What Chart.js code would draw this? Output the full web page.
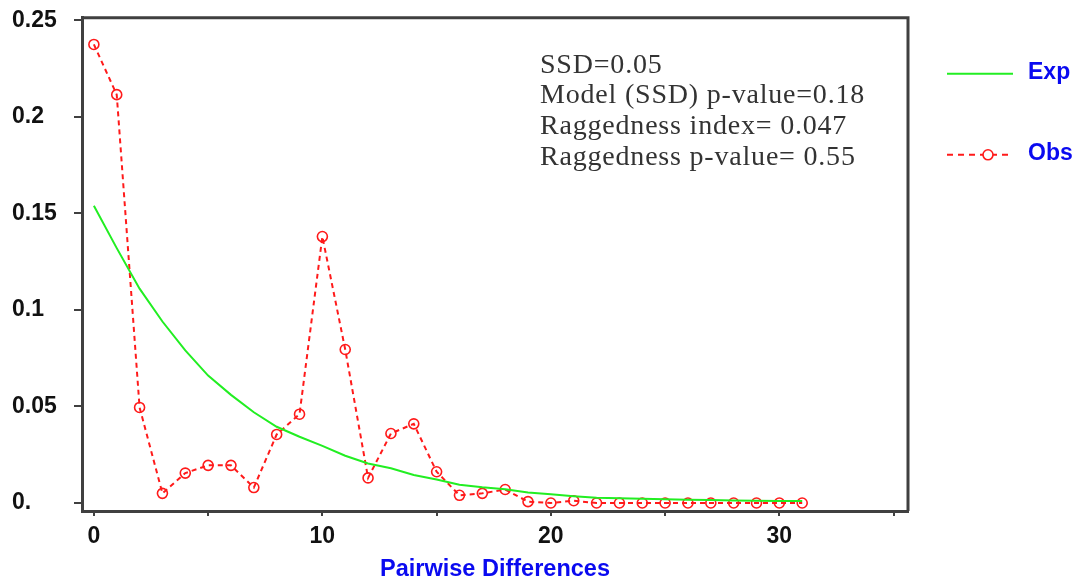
<!DOCTYPE html>
<html lang="en">
<head>
    <meta charset="UTF-8">
    <title>Mismatch Distribution</title>
    <script src="https://cdn.jsdelivr.net/npm/chart.js@4.4.1/dist/chart.umd.min.js"></script>
    <style>
        body { margin: 0; background: #FFFFFF; }
        #mismatchChart { display: block; }
    </style>
</head>
<body>
    <canvas id="mismatchChart" width="1075" height="585"></canvas>

    <script>
        // pairwise differences 0..31
        const differences = [0, 1, 2, 3, 4, 5, 6, 7, 8, 9, 10, 11, 12, 13, 14, 15,
                             16, 17, 18, 19, 20, 21, 22, 23, 24, 25, 26, 27, 28, 29, 30, 31];
        const expValues = [0.154, 0.132, 0.111, 0.094, 0.079, 0.066, 0.056, 0.047, 0.0395, 0.0343,
                           0.0296, 0.0245, 0.0205, 0.018, 0.0145, 0.0122, 0.0095, 0.0081, 0.0071, 0.0055,
                           0.0045, 0.0035, 0.0027, 0.0024, 0.0022, 0.002, 0.0017, 0.0015, 0.0013, 0.0012,
                           0.0011, 0.001];
        const obsValues = [0.2375, 0.2115, 0.0495, 0.005, 0.0155, 0.0195, 0.0195, 0.008, 0.0355, 0.046,
                           0.138, 0.0795, 0.013, 0.036, 0.041, 0.0162, 0.004, 0.005, 0.007, 0.0007,
                           0.0, 0.0012, 0.0, 0.0, 0.0, 0.0, 0.0, 0.0, 0.0, 0.0,
                           0.0, 0.0];

        const xTicks = [0, 5, 10, 15, 20, 25, 30, 35];
        const xTickLabels = ['0', '', '10', '', '20', '', '30', ''];
        const yTicks = [0, 0.05, 0.1, 0.15, 0.2, 0.25];
        const yTickLabels = ['0.', '0.05', '0.1', '0.15', '0.2', '0.25'];

        const statsLines = [
            'SSD=0.05',
            'Model (SSD) p-value=0.18',
            'Raggedness index= 0.047',
            'Raggedness p-value= 0.55'
        ];

        const axisColor = '#404040';
        const labelBlue = '#0a0af0';
        const expColor = '#22ee22';
        const obsColor = '#ff1a1a';

        // box round the plot area (top and right sides)
        const framePlugin = {
            id: 'frame',
            afterDraw(chart) {
                const { ctx, chartArea: a } = chart;
                ctx.save();
                ctx.strokeStyle = axisColor;
                ctx.lineWidth = 3;
                ctx.beginPath();
                ctx.moveTo(a.left, a.top);
                ctx.lineTo(a.right, a.top);
                ctx.lineTo(a.right, a.bottom);
                ctx.stroke();
                ctx.restore();
            }
        };

        // stats text block
        const statsPlugin = {
            id: 'stats',
            afterDraw(chart) {
                const { ctx, chartArea: a } = chart;
                ctx.save();
                ctx.fillStyle = '#333333';
                ctx.font = '28px "Liberation Serif", "Times New Roman", serif';
                ctx.letterSpacing = '0.8px';
                ctx.textBaseline = 'alphabetic';
                statsLines.forEach((line, i) => {
                    ctx.fillText(line, a.left + 458, a.top + 55 + i * 30.6);
                });
                ctx.restore();
            }
        };

        // legend on the right, outside the box
        const sideLegendPlugin = {
            id: 'sideLegend',
            afterDraw(chart) {
                const { ctx, chartArea: a } = chart;
                const x0 = a.right + 39, x1 = a.right + 105;
                const rows = [56, 137];
                ctx.save();
                chart.data.datasets.forEach((ds, i) => {
                    const y = a.top + rows[i];
                    ctx.strokeStyle = ds.borderColor;
                    ctx.lineWidth = ds.borderWidth;
                    ctx.setLineDash(ds.borderDash ? [6, 5] : []);
                    ctx.beginPath();
                    ctx.moveTo(x0, y);
                    ctx.lineTo(x1, y);
                    ctx.stroke();
                    ctx.setLineDash([]);
                    if (ds.pointRadius > 0) {
                        ctx.fillStyle = '#FFFFFF';
                        ctx.lineWidth = ds.pointBorderWidth;
                        ctx.beginPath();
                        ctx.arc(x0 + 41, y, ds.pointRadius, 0, Math.PI * 2);
                        ctx.fill();
                        ctx.stroke();
                    }
                    ctx.fillStyle = labelBlue;
                    ctx.font = 'bold 23px "Liberation Sans", Arial, sans-serif';
                    ctx.textBaseline = 'middle';
                    ctx.fillText(ds.label, a.right + 120, y - 1);
                });
                ctx.restore();
            }
        };

        const data = {
            datasets: [
                {
                    label: 'Exp',
                    data: differences.map((d, i) => ({ x: d, y: expValues[i] })),
                    borderColor: expColor,
                    borderWidth: 2,
                    pointRadius: 0,
                    tension: 0,
                    fill: false
                },
                {
                    label: 'Obs',
                    data: differences.map((d, i) => ({ x: d, y: obsValues[i] })),
                    borderColor: obsColor,
                    borderWidth: 2,
                    borderDash: [5, 4],
                    pointRadius: 5,
                    pointBorderWidth: 1.6,
                    pointBorderColor: obsColor,
                    pointBackgroundColor: 'rgba(255,255,255,0)',
                    tension: 0,
                    fill: false
                }
            ]
        };

        const config = {
            type: 'line',
            data: data,
            options: {
                responsive: false,
                animation: false,
                devicePixelRatio: 1,
                layout: { padding: { left: 12, right: 167, top: 17, bottom: 0 } },
                scales: {
                    x: {
                        type: 'linear',
                        min: -0.52,
                        max: 35.63,
                        afterBuildTicks: (scale) => { scale.ticks = xTicks.map(v => ({ value: v })); },
                        afterFit: (scale) => { scale.height = 74; },
                        ticks: {
                            callback: (value, index) => xTickLabels[index],
                            color: '#111111',
                            font: { family: '"Liberation Sans", Arial, sans-serif', size: 23, weight: 'bold' },
                            padding: 7,
                            maxRotation: 0,
                            autoSkip: false
                        },
                        grid: {
                            drawOnChartArea: false,
                            drawTicks: true,
                            tickLength: 5,
                            tickColor: axisColor,
                            lineWidth: 2
                        },
                        border: { display: true, color: axisColor, width: 3 },
                        title: {
                            display: true,
                            text: 'Pairwise Differences',
                            color: labelBlue,
                            font: { family: '"Liberation Sans", Arial, sans-serif', size: 23.5, weight: 'bold' },
                            padding: { top: 0, bottom: 1 }
                        }
                    },
                    y: {
                        type: 'linear',
                        min: -0.00414,
                        max: 0.2513,
                        afterBuildTicks: (scale) => { scale.ticks = yTicks.map(v => ({ value: v })); },
                        afterFit: (scale) => { scale.width = 70; },
                        ticks: {
                            callback: (value, index) => yTickLabels[index],
                            color: '#111111',
                            font: { family: '"Liberation Sans", Arial, sans-serif', size: 23, weight: 'bold' },
                            crossAlign: 'far',
                            padding: 4
                        },
                        grid: {
                            drawOnChartArea: false,
                            drawTicks: true,
                            tickLength: 8,
                            tickColor: axisColor,
                            lineWidth: 2
                        },
                        border: { display: true, color: axisColor, width: 3 }
                    }
                },
                plugins: {
                    legend: { display: false },
                    tooltip: { enabled: false }
                }
            },
            plugins: [framePlugin, statsPlugin, sideLegendPlugin]
        };

        const ctx = document.getElementById('mismatchChart').getContext('2d');
        const chart = new Chart(ctx, config);
    </script>
</body>
</html>
